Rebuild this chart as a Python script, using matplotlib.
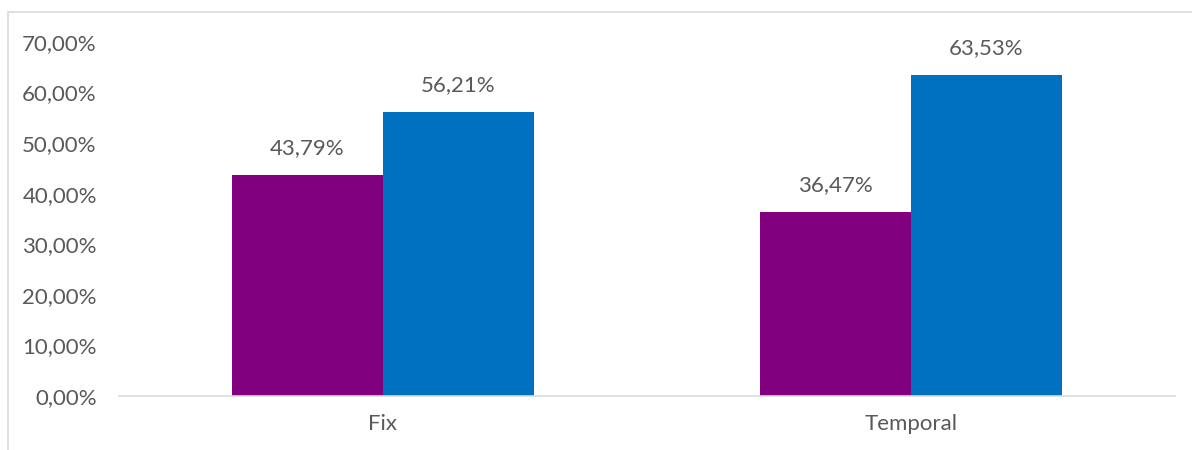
import matplotlib
matplotlib.use("Agg")
import matplotlib.pyplot as plt
from matplotlib.patches import Rectangle
import numpy as np

categories = ["Fix", "Temporal"]
series_purple = [43.79, 36.47]
series_blue = [56.21, 63.53]
y_ticks = [0, 10, 20, 30, 40, 50, 60, 70]

plt.rcParams['font.family'] = ['Lato', 'DejaVu Sans']
text_color = "#595959"

W, H = 1192, 450
fig = plt.figure(figsize=(W / 100, H / 100), dpi=100)
ax = fig.add_axes([119 / W, 1 - 396 / H, (1175 - 119) / W, (396 - 42) / H])

# outer chart border
fig.patches.append(Rectangle((8 / W, -0.1), 1.2, 1 - 12 / H + 0.1, transform=fig.transFigure,
                             fill=False, edgecolor="#D9D9D9", linewidth=1.2))

x = np.arange(len(categories))
bw = 0.286
b1 = ax.bar(x - bw / 2, series_purple, width=bw, color="#800080")
b2 = ax.bar(x + bw / 2, series_blue, width=bw, color="#0070C0")

def fmt(v):
    return f"{v:.2f}".replace(".", ",") + "%"

for bars, vals in ((b1, series_purple), (b2, series_blue)):
    for rect, v in zip(bars, vals):
        ax.annotate(fmt(v), (rect.get_x() + rect.get_width() / 2, v), xytext=(0, 19),
                    textcoords="offset points", ha="center", va="center",
                    fontsize=16, color=text_color)

ax.set_xlim(-0.5, 1.5)
ax.set_ylim(0, 70)
ax.set_yticks(y_ticks)
ax.set_yticklabels([f"{t},00%" for t in y_ticks], fontsize=16, color=text_color)
ax.set_xticks(x)
ax.set_xticklabels(categories, fontsize=16, color=text_color)
ax.tick_params(axis="both", length=0)
ax.tick_params(axis="y", pad=16)
ax.tick_params(axis="x", pad=13)
for s in ("top", "right", "left"):
    ax.spines[s].set_visible(False)
ax.spines["bottom"].set_color("#D9D9D9")
ax.spines["bottom"].set_linewidth(1.2)

fig.savefig("out.png", dpi=100)
